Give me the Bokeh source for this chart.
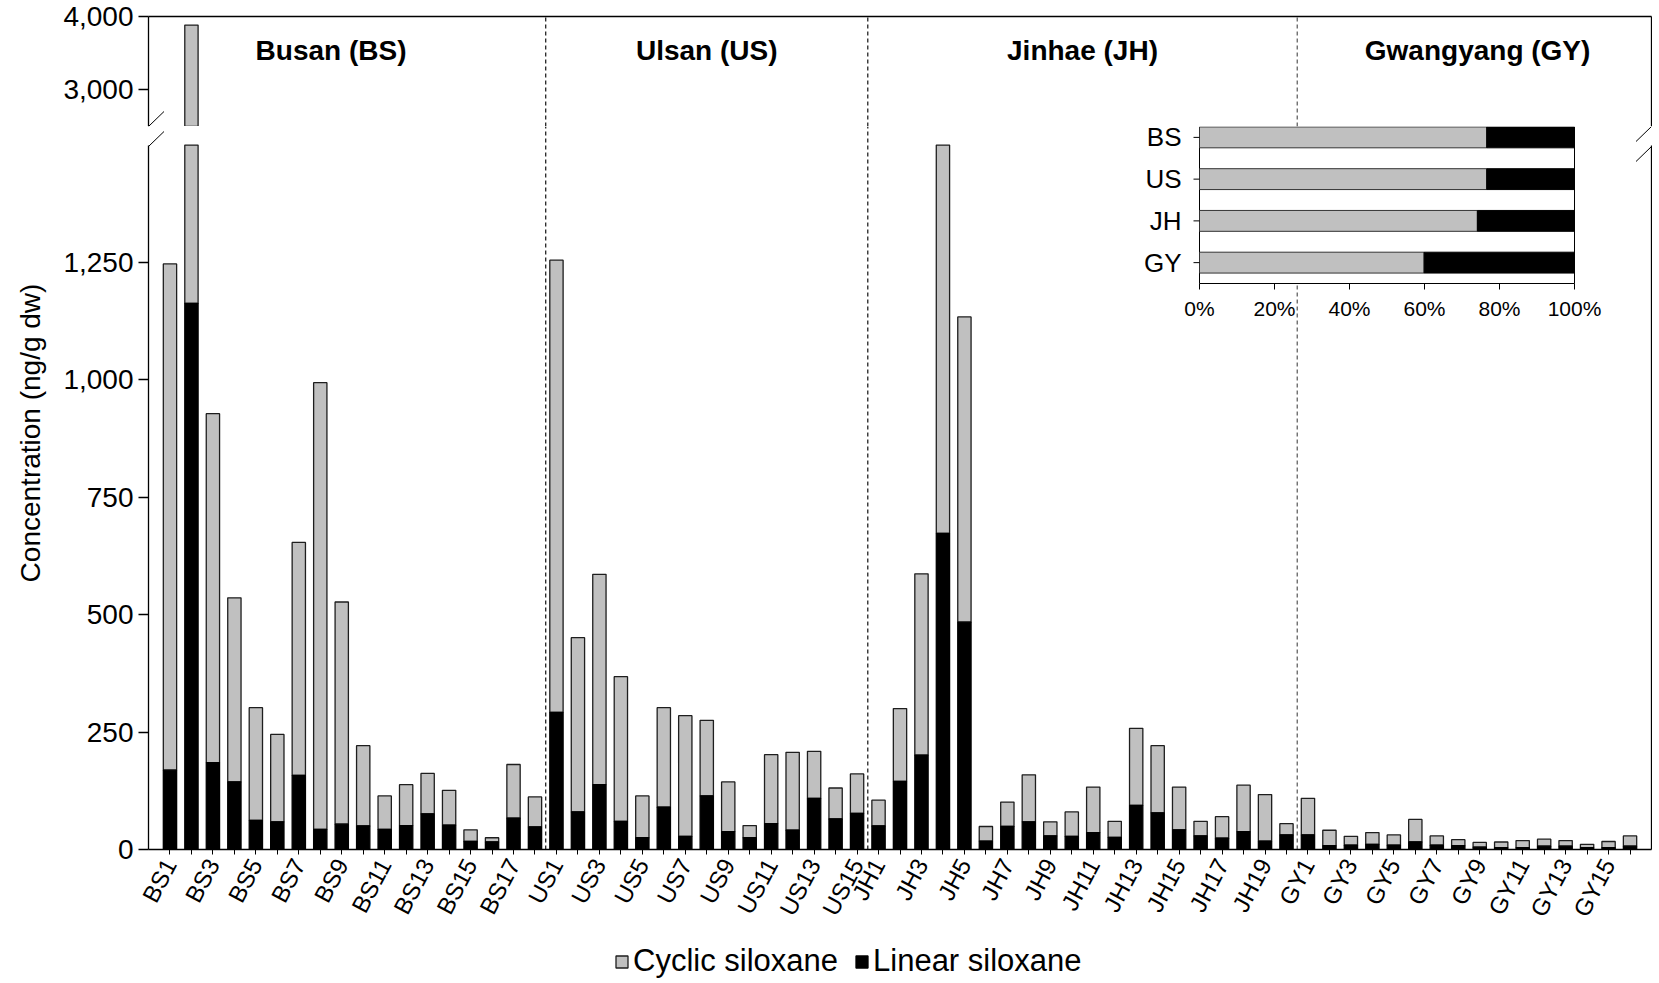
import numpy as np
from bokeh.plotting import figure
from bokeh.models import (Range1d, LinearAxis, FixedTicker, NumeralTickFormatter,
                          Arrow, Legend, LegendItem, ColumnDataSource, CDSView,
                          BooleanFilter)
from bokeh.layouts import column, row
from bokeh.core.properties import value
from bokeh.embed import file_html
from bokeh.resources import INLINE

# ---------------- data ----------------
regions = ["BS", "US", "JH", "GY"]
region_titles = ["Busan (BS)", "Ulsan (US)", "Jinhae (JH)", "Gwangyang (GY)"]

bs_linear = [169, 1163, 185, 144, 62, 59, 158, 43, 54, 50, 43, 51, 76, 52, 17, 16, 67, 48]
bs_cyclic = [1078, 2720, 743, 392, 240, 186, 496, 951, 473, 171, 71, 87, 86, 74, 25, 9, 114, 64]

us_linear = [292, 80, 138, 60, 25, 90, 28, 114, 38, 25, 55, 41, 109, 65, 77]
us_cyclic = [963, 371, 448, 308, 89, 212, 257, 161, 106, 26, 147, 166, 100, 66, 84]

jh_linear = [50, 145, 201, 673, 484, 18, 49, 59, 29, 28, 36, 26, 94, 78, 42, 29, 24, 38, 18, 31]
jh_cyclic = [55, 155, 386, 827, 650, 31, 52, 100, 30, 52, 97, 34, 164, 143, 91, 31, 46, 99, 99, 24]

gy_linear = [31, 8, 9, 11, 9, 16, 9, 8, 5, 4, 4, 7, 7, 4, 4, 7]
gy_cyclic = [78, 33, 19, 25, 22, 48, 20, 13, 10, 12, 15, 15, 12, 7, 13, 22]

inset_sites = ["BS", "US", "JH", "GY"]
inset_cyclic_pct = [76.6, 76.6, 74.1, 59.9]
inset_linear_pct = [23.4, 23.4, 25.9, 40.1]

y_ticks_low = [0, 250, 500, 750, 1000, 1250]
y_ticks_high = [3000, 4000]
inset_x_ticks = [0, 20, 40, 60, 80, 100]
y_title = "Concentration (ng/g dw)"
legend_labels = ["Cyclic siloxane", "Linear siloxane"]

# ---------------- layout constants (pixels, page origin) ----------------
FONT = "Liberation Sans"
GREY = "#C0C0C0"
EDGE = "#1e1e1e"
W = 1652
TW = 50                      # strip holding the y-axis title
FR_L, FR_R = 148, 1651
TOP_H, TOP_T, TOP_B = 126, 16, 126
BOT_T, BOT_B = 126, 849
BOT_MB = 86
BOT_H = (BOT_B - BOT_T) + BOT_MB
LEG_H = 982 - (TOP_H + BOT_H)
LOW_MAX = 1500
HIGH_MIN, HIGH_MAX = 2500, 4000
PXU_LOW = 0.4696
LOW_END = (BOT_B - BOT_T) / PXU_LOW
PXU_HIGH = (TOP_B - TOP_T) / (HIGH_MAX - HIGH_MIN)
INS_L, INS_R, INS_T, INS_B = 1199, 1574, 116, 283
INS_XU = (INS_R - INS_L) / 100.0          # px per percent
INS_YU = (INS_B - INS_T) / 4.0            # px per row
INS_BOX_TOP = (INS_B - 127) / INS_YU

# ---------------- assemble ----------------
lin_groups = [bs_linear, us_linear, jh_linear, gy_linear]
cyc_groups = [bs_cyclic, us_cyclic, jh_cyclic, gy_cyclic]
counts = [len(g) for g in lin_groups]
samples = [f"{r}{i + 1}" for r, n in zip(regions, counts) for i in range(n)]
linear = np.array(sum(lin_groups, []), dtype=float)
cyclic = np.array(sum(cyc_groups, []), dtype=float)
total = linear + cyclic
N = len(samples)
xpos = np.arange(N, dtype=float)
X0, X1 = -1.0, float(N)
SLOT = (FR_R - FR_L) / (X1 - X0)
divider_x = [float(b) - 0.5 for b in np.cumsum(counts)[:-1]]
divider_col = ["#111111", "#111111", "#555555"]

src = ColumnDataSource(dict(x=xpos, lin=linear, low_top=np.minimum(total, LOW_MAX), tot=total))


def px_x(px):
    return X0 + (px - FR_L) / SLOT


def top_y(py):
    return HIGH_MIN + (TOP_B - py) / PXU_HIGH


def bot_y(py):
    return (BOT_B - py) / PXU_LOW


def plain(p):
    p.outline_line_color = None
    p.xgrid.grid_line_color = None
    p.ygrid.grid_line_color = None
    p.background_fill_color = "white"
    p.border_fill_color = "white"


def make_fig(height, y_range, mtop, mbot, xloc):
    p = figure(width=W - TW, height=height, x_range=Range1d(X0, X1), y_range=y_range,
               output_backend="svg", toolbar_location=None, tools="",
               min_border_left=FR_L - TW, min_border_right=W - FR_R,
               min_border_top=mtop, min_border_bottom=mbot,
               x_axis_location=xloc)
    plain(p)
    ya = p.yaxis[0]
    ya.formatter = NumeralTickFormatter(format="0,0")
    ya.major_tick_out = 10
    ya.major_tick_in = 0
    ya.minor_tick_out = 0
    ya.minor_tick_in = 0
    ya.major_label_standoff = 5
    ya.major_label_text_font = FONT
    ya.major_label_text_font_size = "28px"
    ya.major_label_text_color = "black"
    ya.axis_line_color = "black"
    ya.axis_line_width = 1.3
    ya.major_tick_line_width = 1.3
    ra = LinearAxis(ticker=FixedTicker(ticks=[]), major_tick_out=0, major_tick_in=0,
                    major_label_standoff=0, axis_line_color="black", axis_line_width=1.3)
    p.add_layout(ra, "right")
    lo, hi = y_range.start, y_range.end
    for xd, col in zip(divider_x, divider_col):
        p.segment(x0=[xd], x1=[xd], y0=[lo], y1=[hi], line_color=col,
                  line_width=1.2, line_dash="4 3")
    return p, ra


# ---------------- top panel (broken part) ----------------
pt, ra_t = make_fig(TOP_H, Range1d(HIGH_MIN, HIGH_MAX), TOP_T, 0, None)
pt.yaxis[0].ticker = FixedTicker(ticks=y_ticks_high)
pt.yaxis[0].bounds = (HIGH_MIN, HIGH_MAX)
above = LinearAxis(ticker=FixedTicker(ticks=[]), major_tick_out=0, major_tick_in=0,
                   major_label_standoff=0, axis_line_color="black", axis_line_width=1.3)
pt.add_layout(above, "above")

tall = CDSView(filter=BooleanFilter([bool(t > HIGH_MIN) for t in total]))
pt.vbar(x="x", bottom="lin", top="tot", width=0.62, fill_color=GREY, line_color=EDGE,
        line_width=1.3, source=src, view=tall)

starts = np.concatenate([[0], np.cumsum(counts)[:-1]])
title_shift = {"BS": -1.0, "GY": 0.4}
mids = [(s + s + n - 1) / 2.0 + title_shift.get(r, 0.0) for s, n, r in zip(starts, counts, regions)]
pt.text(x=mids, y=[top_y(50)] * len(mids), text=region_titles,
        text_font=value(FONT), text_font_style="bold", text_font_size="28px",
        text_align="center", text_baseline="middle", text_color="black")

# ---------------- lower panel ----------------
pb, ra_b = make_fig(BOT_H, Range1d(0, LOW_END), 0, BOT_MB, "below")
pb.extra_x_ranges = {"ix": Range1d((FR_L - INS_L) / INS_XU, (FR_R - INS_L) / INS_XU)}
pb.extra_y_ranges = {"iy": Range1d((INS_B - BOT_B) / INS_YU, (INS_B - BOT_T) / INS_YU)}

ya = pb.yaxis[0]
ya.ticker = FixedTicker(ticks=y_ticks_low)
ya.bounds = (0, LOW_MAX)
ra_b.bounds = (0, LOW_MAX)

xa = pb.xaxis[0]
xa.ticker = FixedTicker(ticks=list(xpos))
xa.major_label_overrides = {float(x): (s if int(s[2:]) % 2 == 1 else "") for x, s in zip(xpos, samples)}
xa.major_label_orientation = float(np.deg2rad(62))
xa.major_label_text_font = FONT
xa.major_label_text_font_size = "24px"
xa.major_label_text_color = "black"
xa.major_label_standoff = 6
xa.major_tick_out = 5
xa.major_tick_in = 0
xa.minor_tick_out = 0
xa.minor_tick_in = 0
xa.axis_line_color = "black"
xa.axis_line_width = 1.3

pb.vbar(x="x", bottom="lin", top="low_top", width=0.62, fill_color=GREY,
        line_color=EDGE, line_width=1.3, source=src)
pb.vbar(x="x", bottom=0, top="lin", width=0.62, fill_color="black",
        line_color="black", line_width=1.3, source=src)

# inset (composition by region)
rows = [len(inset_sites) - i - 0.5 for i in range(len(inset_sites))]
pb.quad(left=0, right=100, bottom=0, top=INS_BOX_TOP, x_range_name="ix", y_range_name="iy",
        fill_color="white", line_color="black", line_width=1)
pb.hbar(y=rows, left=0, right=inset_cyclic_pct, height=0.5, fill_color=GREY,
        line_color="#333333", line_width=1, x_range_name="ix", y_range_name="iy")
pb.hbar(y=rows, left=inset_cyclic_pct,
        right=[c + l for c, l in zip(inset_cyclic_pct, inset_linear_pct)],
        height=0.5, fill_color="black", line_color="black", line_width=1,
        x_range_name="ix", y_range_name="iy")
tx = 6 / INS_XU
ty = 6 / INS_YU
pb.segment(x0=[-tx] * len(rows), x1=[0] * len(rows), y0=rows, y1=rows,
           line_color="black", line_width=1, x_range_name="ix", y_range_name="iy")
pb.segment(x0=inset_x_ticks, x1=inset_x_ticks, y0=[0] * len(inset_x_ticks),
           y1=[-ty] * len(inset_x_ticks), line_color="black", line_width=1,
           x_range_name="ix", y_range_name="iy")
pb.text(x=[-18 / INS_XU] * len(rows), y=rows, text=inset_sites, text_font=value(FONT),
        text_font_size="26px", text_align="right", text_baseline="middle",
        text_color="black", x_range_name="ix", y_range_name="iy")
pb.text(x=inset_x_ticks, y=[(INS_B - 308) / INS_YU] * len(inset_x_ticks),
        text=[f"{t}%" for t in inset_x_ticks], text_font=value(FONT), text_font_size="21px",
        text_align="center", text_baseline="middle", text_color="black",
        x_range_name="ix", y_range_name="iy")

# ---------------- axis-break marks ----------------
HX, HY = 15.5, 15.0
for xc in (FR_L, FR_R):
    for yc in (TOP_B, TOP_B + 20):
        pt.add_layout(Arrow(end=None, x_start=px_x(xc - HX), y_start=top_y(yc + HY),
                            x_end=px_x(xc + HX), y_end=top_y(yc - HY),
                            line_color="black", line_width=1))
        pb.add_layout(Arrow(end=None, x_start=px_x(xc - HX), y_start=bot_y(yc + HY),
                            x_end=px_x(xc + HX), y_end=bot_y(yc - HY),
                            line_color="black", line_width=1))

# ---------------- y-axis title strip (centred on the whole broken axis) ----------------
TH = TOP_H + BOT_H
ptl = figure(width=TW, height=TH, x_range=Range1d(0, TW), y_range=Range1d(0, TH),
             output_backend="svg", toolbar_location=None, tools="", min_border=0,
             min_border_left=0, min_border_right=0, min_border_top=0, min_border_bottom=0,
             x_axis_location=None, y_axis_location=None)
plain(ptl)
ptl.text(x=[30], y=[TH - (TOP_T + BOT_B) / 2.0], text=[y_title], angle=float(np.pi / 2),
         text_font=value(FONT), text_font_size="28px", text_align="center",
         text_baseline="middle", text_color="black")

# ---------------- legend strip ----------------
pl = figure(width=W, height=LEG_H, x_range=Range1d(0, 1), y_range=Range1d(0, 1),
            output_backend="svg", toolbar_location=None, tools="",
            min_border_left=FR_L, min_border_right=W - FR_R, min_border_top=0,
            min_border_bottom=0, x_axis_location=None, y_axis_location=None)
plain(pl)
swatch_src = ColumnDataSource(dict(x=[0.5], top=[1.0]))
lg_c = pl.vbar(x="x", top="top", width=0.5, fill_color=GREY, line_color=EDGE,
               line_width=1.3, source=swatch_src, visible=False)
lg_l = pl.vbar(x="x", top="top", width=0.5, fill_color="black", line_color="black",
               line_width=1.3, source=swatch_src, visible=False)
legend = Legend(items=[LegendItem(label=legend_labels[0], renderers=[lg_c]),
                       LegendItem(label=legend_labels[1], renderers=[lg_l])],
                orientation="horizontal", location=(614 - FR_L, 3),
                label_text_font=FONT, label_text_font_size="31px", label_text_color="black",
                glyph_width=15, glyph_height=15, label_standoff=4, spacing=16,
                padding=0, margin=0, border_line_color=None, background_fill_alpha=0,
                inactive_fill_alpha=0)
pl.add_layout(legend)

layout = column(row(ptl, column(pt, pb, spacing=0), spacing=0), pl, spacing=0)
open("out.html", "w").write(file_html(layout, INLINE))
